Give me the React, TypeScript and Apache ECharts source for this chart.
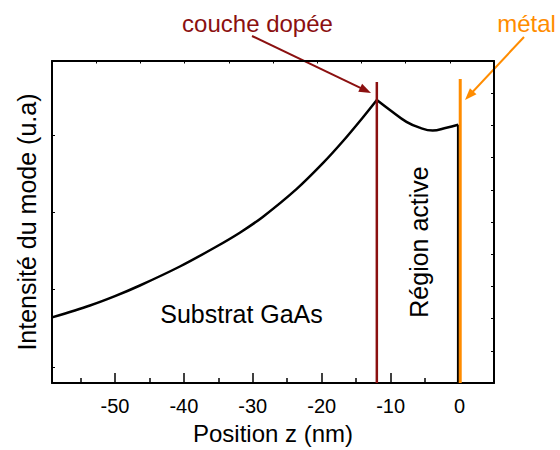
import React, { useEffect, useRef } from "react";
import * as echarts from "echarts";

// Position z (nm) and mode intensity (a.u., 0..1 on the plot's scale)
const substratZ = [-59.13, -53.62, -50.0, -46.38, -40.58, -35.51, -31.88, -28.55, -23.62, -19.86, -16.96, -14.06, -12.0];
const substratI = [0.204, 0.241, 0.27, 0.303, 0.362, 0.421, 0.467, 0.516, 0.603, 0.682, 0.75, 0.824, 0.879];
const activeZ = [-12.0, -10.1, -7.7, -5.8, -3.9, -1.9, -0.2];
const activeI = [0.879, 0.848, 0.811, 0.793, 0.784, 0.793, 0.802];
const dropZ = [-0.2, -0.2];
const dropI = [0.802, 0];
const coucheZ = [-12.0, -12.0];
const coucheI = [0, 0.935];
const metalZ = [0.1, 0.1];
const metalI = [0, 0.944];

const xMajorTicks = [-50, -40, -30, -20, -10, 0];
const xMinorTicks = [-55, -45, -35, -25, -15, -5];
const yLeftTicks = [0.05, 0.29, 0.53, 0.77];

const zip = (a: number[], b: number[]) => a.map((v, i) => [v, b[i]]);

const FONT = "Liberation Sans, Arial, Helvetica, sans-serif";
const DARK_RED = "#8B1010";
const ORANGE = "#FF8C00";

function arrow(x1: number, y1: number, x2: number, y2: number, color: string) {
  const dx = x2 - x1;
  const dy = y2 - y1;
  const len = Math.sqrt(dx * dx + dy * dy);
  const ux = dx / len;
  const uy = dy / len;
  const hl = 12;
  const hw = 4.5;
  const bx = x2 - ux * hl;
  const by = y2 - uy * hl;
  const px = -uy * hw;
  const py = ux * hw;
  return [
    {
      type: "line",
      shape: { x1, y1, x2: bx + ux * 2, y2: by + uy * 2 },
      style: { stroke: color, lineWidth: 2 },
      silent: true,
    },
    {
      type: "polygon",
      shape: {
        points: [
          [x2, y2],
          [bx + px, by + py],
          [bx - px, by - py],
        ],
      },
      style: { fill: color },
      silent: true,
    },
  ];
}

export default function App() {
  const ref = useRef<HTMLDivElement>(null);
  useEffect(() => {
    document.body.style.margin = "0";
    if (!ref.current) return;
    const chart = echarts.init(ref.current, undefined, { renderer: "svg" });
    const lineStyleBlack = { color: "#000", width: 2.5 };
    const frameLine = { show: true, onZero: false, lineStyle: { color: "#000", width: 2 } };
    chart.setOption({
      animation: false,
      backgroundColor: "#fff",
      textStyle: { fontFamily: FONT },
      grid: { left: 52, right: 66, top: 61, bottom: 66, containLabel: false },
      xAxis: [
        {
          type: "value",
          position: "bottom",
          min: -59.13,
          max: 5,
          axisLine: frameLine,
          axisTick: {
            show: true,
            inside: true,
            length: 10,
            customValues: xMajorTicks,
            lineStyle: { color: "#000", width: 1.5 },
          },
          axisLabel: {
            show: true,
            customValues: xMajorTicks,
            fontSize: 20,
            color: "#000",
            margin: 13,
            fontFamily: FONT,
          },
          splitLine: { show: false },
          name: "Position z (nm)",
          nameLocation: "middle",
          nameGap: 37,
          nameTextStyle: { fontSize: 24, color: "#000", fontFamily: FONT },
        },
        {
          type: "value",
          position: "bottom",
          min: -59.13,
          max: 5,
          axisLine: { show: false, onZero: false },
          axisTick: {
            show: true,
            inside: true,
            length: 5,
            customValues: xMinorTicks,
            lineStyle: { color: "#000", width: 1.5 },
          },
          axisLabel: { show: false },
          splitLine: { show: false },
        },
        {
          type: "value",
          position: "top",
          min: 0,
          max: 10,
          interval: 1,
          axisLine: frameLine,
          axisTick: { show: true, inside: true, length: 2.5, lineStyle: { color: "#000", width: 1 } },
          axisLabel: { show: false },
          splitLine: { show: false },
        },
      ],
      yAxis: [
        {
          type: "value",
          position: "left",
          min: 0,
          max: 1,
          axisLine: frameLine,
          axisTick: {
            show: true,
            inside: true,
            length: 3,
            customValues: yLeftTicks,
            lineStyle: { color: "#000", width: 1 },
          },
          axisLabel: { show: false },
          splitLine: { show: false },
          name: "Intensité du mode (u.a)",
          nameLocation: "middle",
          nameGap: 13,
          nameTextStyle: { fontSize: 25, color: "#000", fontFamily: FONT },
        },
        {
          type: "value",
          position: "right",
          min: 0,
          max: 10,
          interval: 1,
          axisLine: frameLine,
          axisTick: { show: true, inside: true, length: 3, lineStyle: { color: "#000", width: 1 } },
          axisLabel: { show: false },
          splitLine: { show: false },
        },
      ],
      series: [
        {
          name: "Substrat",
          type: "line",
          xAxisIndex: 0,
          yAxisIndex: 0,
          data: zip(substratZ, substratI),
          smooth: 0.3,
          showSymbol: false,
          lineStyle: lineStyleBlack,
          silent: true,
        },
        {
          name: "Région active",
          type: "line",
          xAxisIndex: 0,
          yAxisIndex: 0,
          data: zip(activeZ, activeI),
          smooth: 0.4,
          showSymbol: false,
          lineStyle: lineStyleBlack,
          silent: true,
        },
        {
          name: "Chute",
          type: "line",
          xAxisIndex: 0,
          yAxisIndex: 0,
          data: zip(dropZ, dropI),
          showSymbol: false,
          lineStyle: lineStyleBlack,
          silent: true,
        },
        {
          name: "couche dopée",
          type: "line",
          xAxisIndex: 0,
          yAxisIndex: 0,
          data: zip(coucheZ, coucheI),
          showSymbol: false,
          lineStyle: { color: DARK_RED, width: 2.5 },
          silent: true,
        },
        {
          name: "métal",
          type: "line",
          xAxisIndex: 0,
          yAxisIndex: 0,
          data: zip(metalZ, metalI),
          showSymbol: false,
          lineStyle: { color: ORANGE, width: 3 },
          silent: true,
        },
      ],
      graphic: [
        {
          type: "text",
          x: 257.5,
          y: 23,
          style: {
            text: "couche dopée",
            fill: DARK_RED,
            fontSize: 24,
            fontFamily: FONT,
            align: "center",
            verticalAlign: "middle",
          },
          silent: true,
        },
        {
          type: "text",
          x: 526.5,
          y: 23,
          style: {
            text: "métal",
            fill: ORANGE,
            fontSize: 24,
            fontFamily: FONT,
            align: "center",
            verticalAlign: "middle",
          },
          silent: true,
        },
        {
          type: "text",
          x: 241.5,
          y: 314,
          style: {
            text: "Substrat GaAs",
            fill: "#000",
            fontSize: 25,
            fontFamily: FONT,
            align: "center",
            verticalAlign: "middle",
          },
          silent: true,
        },
        {
          type: "text",
          x: 418.5,
          y: 242,
          rotation: Math.PI / 2,
          style: {
            text: "Région active",
            fill: "#000",
            fontSize: 25,
            fontFamily: FONT,
            align: "center",
            verticalAlign: "middle",
          },
          silent: true,
        },
        ...arrow(252, 36, 371, 93, DARK_RED),
        ...arrow(524, 37, 465, 100, ORANGE),
      ],
    });
    return () => chart.dispose();
  }, []);
  return <div ref={ref} style={{ width: 560, height: 450 }} />;
}
